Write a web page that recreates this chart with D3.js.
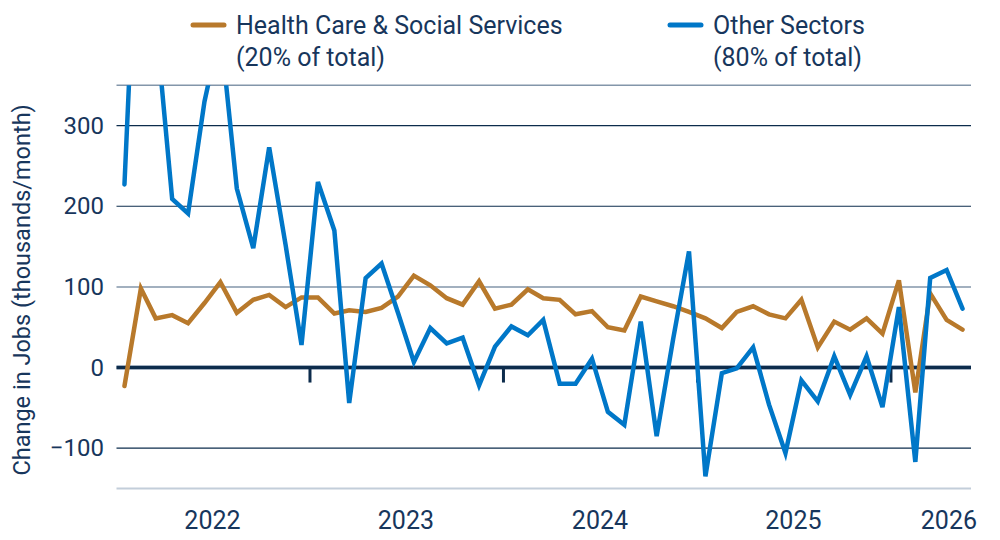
<!DOCTYPE html>
<html>
<head>
<meta charset="utf-8">
<script src="https://cdn.jsdelivr.net/npm/d3@7"></script>
<style>
  body { margin: 0; background: #fff; }
  svg { display: block; font-family: Roboto, "Noto Sans", sans-serif; }
</style>
</head>
<body>
<div id="chart"></div>
<script>
// monthly change in jobs, thousands, Jan 2022 .. May 2026
const healthCare = [-23, 98, 61, 65, 55, 80, 106, 68, 84, 90, 75, 87, 87, 67, 71, 69, 74, 88,
    114, 102, 86, 78, 107, 73, 78, 97, 86, 84, 66, 70, 50, 46, 88, 82, 76, 69, 61, 49,
    69, 76, 66, 61, 84, 25, 57, 47, 61, 42, 108, -31, 92, 59, 47];
const otherSectors = [227, 680, 430, 209, 191, 330, 420, 222, 148, 273, 152, 28, 230, 170, -44,
    111, 129, 68, 7, 49, 30, 37, -22, 26, 51, 40, 59, -20, -20, 11, -55, -71, 57, -85,
    35, 144, -135, -7, -1, 25, -46, -106, -16, -42, 14, -34, 14, -49, 75, -117, 111, 121, 73];
const yTicks = [300, 200, 100, 0, -100];
const gridValues = [350, 300, 200, 100, -100];
const yearLabels = ["2022", "2023", "2024", "2025", "2026"];
const seriesNames = ["Health Care & Social Services", "Other Sectors"];
const seriesShares = ["(20% of total)", "(80% of total)"];

const width = 1000, height = 540;
const navy = "#17365c";
const colors = ["#b8792b", "#0077c8"];

const start = new Date(2022, 0, 1), end = new Date(2026, 5, 1);
const months = d3.timeMonths(start, new Date(2026, 4, 2));

const x = d3.scaleTime().domain([start, end]).range([116.5, 971]);
const y = d3.scaleLinear().domain([-150, 350]).range([488.5, 85.3]);
const mid = d => x(d3.timeDay.offset(d, 15));

const svg = d3.select("#chart").append("svg")
    .attr("width", width)
    .attr("height", height);

svg.append("defs").append("clipPath").attr("id", "plot")
    .append("rect")
    .attr("x", x.range()[0] - 5).attr("y", y(350))
    .attr("width", x.range()[1] - x.range()[0] + 10)
    .attr("height", y(-150) - y(350));

// gridlines
svg.append("g").selectAll("line")
    .data(gridValues)
    .join("line")
    .attr("x1", x.range()[0]).attr("x2", x.range()[1])
    .attr("y1", d => y(d)).attr("y2", d => y(d))
    .attr("stroke", d => (d === 350 || d === 100) ? "#8396aa" : "#0d2c4c")
    .attr("stroke-width", d => (d === 350 || d === 100) ? 1.5 : 1.2);

svg.append("line")
    .attr("x1", x.range()[0]).attr("x2", x.range()[1])
    .attr("y1", y(-150)).attr("y2", y(-150))
    .attr("stroke", "#c3ceda").attr("stroke-width", 2);

// zero line
svg.append("line")
    .attr("x1", x.range()[0]).attr("x2", x.range()[1])
    .attr("y1", y(0)).attr("y2", y(0))
    .attr("stroke", "#a3b1c2").attr("stroke-width", 5);
svg.append("line")
    .attr("x1", x.range()[0]).attr("x2", x.range()[1])
    .attr("y1", y(0)).attr("y2", y(0))
    .attr("stroke", "#0d2c4c").attr("stroke-width", 3);

// year boundary ticks on zero line
svg.append("g").selectAll("line")
    .data(d3.timeYears(new Date(2023, 0, 1), end))
    .join("line")
    .attr("x1", d => x(d)).attr("x2", d => x(d))
    .attr("y1", y(0)).attr("y2", y(0) + 15)
    .attr("stroke", "#0d2c4c").attr("stroke-width", 3);

// y tick labels
svg.append("g").selectAll("text")
    .data(yTicks)
    .join("text")
    .attr("x", 104)
    .attr("y", d => y(d) + 8)
    .attr("text-anchor", "end")
    .attr("fill", navy)
    .style("font-size", "24px")
    .text(d => d < 0 ? "\u2212" + Math.abs(d) : d);

// x labels
svg.append("g").selectAll("text")
    .data(yearLabels)
    .join("text")
    .attr("x", (d, i) => i < 4 ? x(new Date(+d, 6, 1)) : x.range()[1] + 6)
    .attr("y", 529)
    .attr("text-anchor", (d, i) => i < 4 ? "middle" : "end")
    .attr("fill", navy)
    .style("font-size", "25px")
    .text(d => d);

// y axis title
svg.append("text")
    .attr("transform", `translate(30, ${(y(350) + y(-150)) / 2 + 3}) rotate(-90)`)
    .attr("text-anchor", "middle")
    .attr("fill", navy)
    .style("font-size", "23.5px")
    .text("Change in Jobs (thousands/month)");

// lines
const line = d3.line()
    .x((d, i) => mid(months[i]))
    .y(d => y(d));

const plot = svg.append("g").attr("clip-path", "url(#plot)");
[healthCare, otherSectors].forEach((values, k) => {
    plot.append("path")
        .datum(values)
        .attr("fill", "none")
        .attr("stroke", colors[k])
        .attr("stroke-width", 4.5)
        .attr("stroke-linecap", "round")
        .attr("stroke-linejoin", "miter")
        .attr("d", line);
});

// legend
const legendX = [191, 668];
const legend = svg.append("g").selectAll("g")
    .data(seriesNames)
    .join("g")
    .attr("transform", (d, i) => `translate(${legendX[i]}, 0)`);

legend.append("line")
    .attr("x1", 2).attr("x2", 33)
    .attr("y1", 25).attr("y2", 25)
    .attr("stroke", (d, i) => colors[i])
    .attr("stroke-width", 5)
    .attr("stroke-linecap", "round");

legend.append("text")
    .attr("x", 45).attr("y", 34)
    .attr("fill", navy)
    .style("font-size", "25px")
    .text(d => d);

legend.append("text")
    .attr("x", 45).attr("y", 66)
    .attr("fill", navy)
    .style("font-size", "25px")
    .text((d, i) => seriesShares[i]);
</script>
</body>
</html>
